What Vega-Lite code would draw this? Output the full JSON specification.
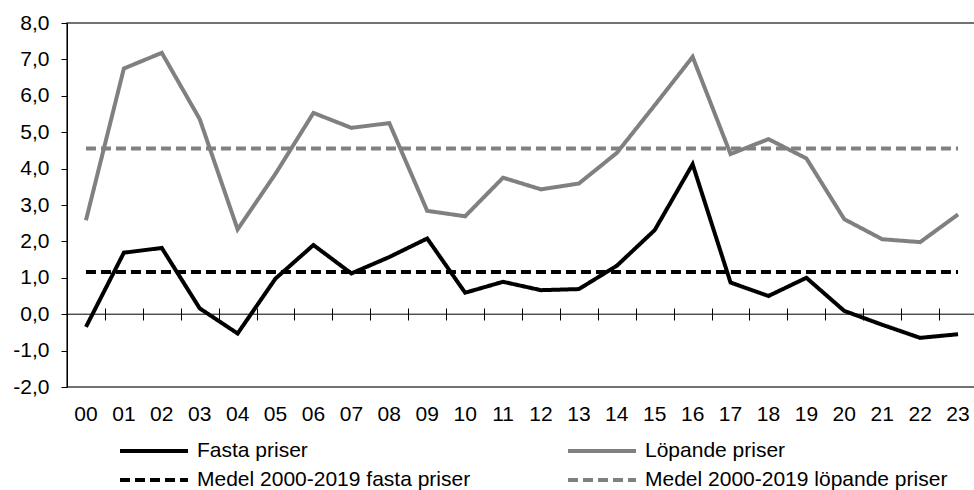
{
  "$schema": "https://vega.github.io/schema/vega-lite/v6.json",
  "width": 910,
  "height": 364,
  "autosize": {"type": "none"},
  "padding": {"left": 67, "top": 23, "right": 0, "bottom": 103},
  "config": {
    "locale": {"number": {"decimal": ",", "thousands": " ", "grouping": [3], "currency": ["", ""], "minus": "-"}},
    "font": "Liberation Sans",
    "view": {"stroke": "#444", "strokeWidth": 1.5},
    "axis": {"labelFont": "Liberation Sans", "labelFontSize": 21, "labelColor": "#000", "domainColor": "#000", "tickColor": "#000", "grid": false, "title": null, "labelOverlap": false},
    "legend": {"labelFont": "Liberation Sans", "labelFontSize": 21, "labelColor": "#000", "labelLimit": 500}
  },
  "data": {
    "values": [
      {"year": "00", "Fasta priser": -0.35, "Löpande priser": 2.58, "Medel 2000-2019 fasta priser": 1.16, "Medel 2000-2019 löpande priser": 4.55},
      {"year": "01", "Fasta priser": 1.69, "Löpande priser": 6.75, "Medel 2000-2019 fasta priser": 1.16, "Medel 2000-2019 löpande priser": 4.55},
      {"year": "02", "Fasta priser": 1.82, "Löpande priser": 7.18, "Medel 2000-2019 fasta priser": 1.16, "Medel 2000-2019 löpande priser": 4.55},
      {"year": "03", "Fasta priser": 0.16, "Löpande priser": 5.36, "Medel 2000-2019 fasta priser": 1.16, "Medel 2000-2019 löpande priser": 4.55},
      {"year": "04", "Fasta priser": -0.53, "Löpande priser": 2.33, "Medel 2000-2019 fasta priser": 1.16, "Medel 2000-2019 löpande priser": 4.55},
      {"year": "05", "Fasta priser": 0.98, "Löpande priser": 3.86, "Medel 2000-2019 fasta priser": 1.16, "Medel 2000-2019 löpande priser": 4.55},
      {"year": "06", "Fasta priser": 1.90, "Löpande priser": 5.53, "Medel 2000-2019 fasta priser": 1.16, "Medel 2000-2019 löpande priser": 4.55},
      {"year": "07", "Fasta priser": 1.12, "Löpande priser": 5.12, "Medel 2000-2019 fasta priser": 1.16, "Medel 2000-2019 löpande priser": 4.55},
      {"year": "08", "Fasta priser": 1.57, "Löpande priser": 5.25, "Medel 2000-2019 fasta priser": 1.16, "Medel 2000-2019 löpande priser": 4.55},
      {"year": "09", "Fasta priser": 2.08, "Löpande priser": 2.84, "Medel 2000-2019 fasta priser": 1.16, "Medel 2000-2019 löpande priser": 4.55},
      {"year": "10", "Fasta priser": 0.59, "Löpande priser": 2.69, "Medel 2000-2019 fasta priser": 1.16, "Medel 2000-2019 löpande priser": 4.55},
      {"year": "11", "Fasta priser": 0.89, "Löpande priser": 3.75, "Medel 2000-2019 fasta priser": 1.16, "Medel 2000-2019 löpande priser": 4.55},
      {"year": "12", "Fasta priser": 0.66, "Löpande priser": 3.43, "Medel 2000-2019 fasta priser": 1.16, "Medel 2000-2019 löpande priser": 4.55},
      {"year": "13", "Fasta priser": 0.69, "Löpande priser": 3.59, "Medel 2000-2019 fasta priser": 1.16, "Medel 2000-2019 löpande priser": 4.55},
      {"year": "14", "Fasta priser": 1.33, "Löpande priser": 4.43, "Medel 2000-2019 fasta priser": 1.16, "Medel 2000-2019 löpande priser": 4.55},
      {"year": "15", "Fasta priser": 2.31, "Löpande priser": 5.74, "Medel 2000-2019 fasta priser": 1.16, "Medel 2000-2019 löpande priser": 4.55},
      {"year": "16", "Fasta priser": 4.12, "Löpande priser": 7.07, "Medel 2000-2019 fasta priser": 1.16, "Medel 2000-2019 löpande priser": 4.55},
      {"year": "17", "Fasta priser": 0.87, "Löpande priser": 4.40, "Medel 2000-2019 fasta priser": 1.16, "Medel 2000-2019 löpande priser": 4.55},
      {"year": "18", "Fasta priser": 0.50, "Löpande priser": 4.81, "Medel 2000-2019 fasta priser": 1.16, "Medel 2000-2019 löpande priser": 4.55},
      {"year": "19", "Fasta priser": 1.00, "Löpande priser": 4.28, "Medel 2000-2019 fasta priser": 1.16, "Medel 2000-2019 löpande priser": 4.55},
      {"year": "20", "Fasta priser": 0.09, "Löpande priser": 2.61, "Medel 2000-2019 fasta priser": 1.16, "Medel 2000-2019 löpande priser": 4.55},
      {"year": "21", "Fasta priser": -0.29, "Löpande priser": 2.06, "Medel 2000-2019 fasta priser": 1.16, "Medel 2000-2019 löpande priser": 4.55},
      {"year": "22", "Fasta priser": -0.65, "Löpande priser": 1.98, "Medel 2000-2019 fasta priser": 1.16, "Medel 2000-2019 löpande priser": 4.55},
      {"year": "23", "Fasta priser": -0.55, "Löpande priser": 2.74, "Medel 2000-2019 fasta priser": 1.16, "Medel 2000-2019 löpande priser": 4.55}
    ]
  },
  "transform": [
    {"fold": ["Fasta priser", "Löpande priser", "Medel 2000-2019 fasta priser", "Medel 2000-2019 löpande priser"], "as": ["serie", "value"]}
  ],
  "layer": [
    {
      "transform": [{"filter": {"field": "serie", "oneOf": ["Fasta priser", "Löpande priser"]}}],
      "mark": {"type": "line", "strokeWidth": 4},
      "encoding": {
        "x": {"field": "year", "type": "ordinal", "bandPosition": 0.5, "scale": {"type": "band", "paddingInner": 0, "paddingOuter": 0},
              "axis": {"orient": "bottom", "labelAngle": 0, "labelPadding": 16, "labelFontSize": 21, "ticks": false, "domain": false, "labelOverlap": false}},
        "y": {"field": "value", "type": "quantitative", "scale": {"domain": [-2, 8], "nice": false, "zero": false},
              "axis": {"values": [-2, -1, 0, 1, 2, 3, 4, 5, 6, 7, 8], "tickCount": 11, "format": ".1f", "tickSize": 6, "labelPadding": 12, "labelFontSize": 21, "labelOverlap": false, "domain": true}},
        "color": {"field": "serie", "type": "nominal",
                  "scale": {"domain": ["Fasta priser", "Medel 2000-2019 fasta priser", "Löpande priser", "Medel 2000-2019 löpande priser"], "range": ["#000000", "#000000", "#808080", "#808080"]},
                  "legend": {"title": null, "orient": "none", "legendX": 51, "legendY": 417, "columns": 2, "columnPadding": 95, "rowPadding": 7, "symbolType": "stroke", "symbolSize": 4624, "symbolStrokeWidth": 4, "clipHeight": 22, "labelOffset": 7, "labelFontSize": 21, "labelLimit": 500, "padding": 0}},
        "strokeDash": {"field": "serie", "type": "nominal",
                  "scale": {"domain": ["Fasta priser", "Medel 2000-2019 fasta priser", "Löpande priser", "Medel 2000-2019 löpande priser"], "range": [[1, 0], [10, 5], [1, 0], [10, 5]]}}
      }
    },
    {
      "data": {"values": [{"value": 0}]},
      "mark": {"type": "rule", "color": "#000", "strokeWidth": 1},
      "encoding": {"y": {"field": "value", "type": "quantitative",
              "axis": {"values": [-2, -1, 0, 1, 2, 3, 4, 5, 6, 7, 8], "tickCount": 11, "format": ".1f", "tickSize": 6, "labelPadding": 12, "labelFontSize": 21, "labelOverlap": false, "domain": true}}}
    },
    {
      "transform": [{"filter": {"field": "serie", "oneOf": ["Medel 2000-2019 fasta priser", "Medel 2000-2019 löpande priser"]}}],
      "mark": {"type": "line", "strokeWidth": 4},
      "encoding": {
        "x": {"field": "year", "type": "ordinal", "bandPosition": 0.5,
              "axis": {"orient": "bottom", "offset": -79, "labels": false, "domain": false, "ticks": true, "tickBand": "extent", "tickSize": 12, "tickColor": "#000"}},
        "y": {"field": "value", "type": "quantitative",
              "axis": {"values": [-2, -1, 0, 1, 2, 3, 4, 5, 6, 7, 8], "tickCount": 11, "format": ".1f", "tickSize": 6, "labelPadding": 12, "labelFontSize": 21, "labelOverlap": false, "domain": true}},
        "color": {"field": "serie", "type": "nominal"},
        "strokeDash": {"field": "serie", "type": "nominal"}
      }
    }
  ],
  "resolve": {"axis": {"x": "independent"}}
}
